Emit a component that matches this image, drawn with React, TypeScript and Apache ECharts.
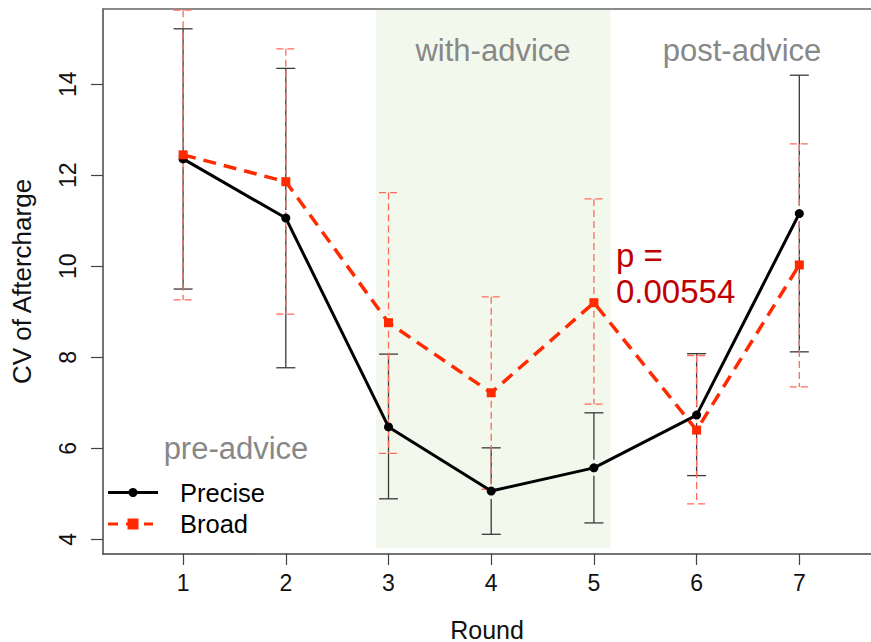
import React, { useEffect, useRef } from "react";
import * as echarts from "echarts";

const rounds = [1, 2, 3, 4, 5, 6, 7];
const preciseMean = [12.36, 11.06, 6.47, 5.06, 5.57, 6.73, 11.16];
const preciseLow = [9.5, 7.77, 4.89, 4.11, 4.36, 5.4, 8.12];
const preciseHigh = [15.22, 14.35, 8.07, 6.01, 6.78, 8.08, 14.2];
const broadMean = [12.45, 11.86, 8.76, 7.22, 9.2, 6.4, 10.03];
const broadLow = [9.26, 8.95, 5.89, 5.1, 6.97, 4.78, 7.35];
const broadHigh = [15.63, 14.78, 11.62, 9.33, 11.48, 8.04, 12.69];
const yTicks = [4, 6, 8, 10, 12, 14];
const xTicks = [1, 2, 3, 4, 5, 6, 7];
// shaded "with-advice" band: [xStart, yStart, xEnd, yEnd]
const adviceBand = [2.88, 3.81, 5.16, 15.65];

const FONT = "Liberation Sans, Arial, Helvetica, sans-serif";

function errRender(stroke: string, lineWidth: number, lineDash: number[] | null) {
  return (params: any, api: any) => {
    const x = api.value(0);
    const lo = api.value(1);
    const hi = api.value(2);
    const m = api.value(3);
    const pHi = api.coord([x, hi]);
    const pLo = api.coord([x, lo]);
    const pM = api.coord([x, m]);
    const gap = 8;
    const cap = 9.5;
    const style: any = { stroke, lineWidth, fill: null };
    if (lineDash) style.lineDash = lineDash;
    const children: any[] = [];
    if (pM[1] - gap > pHi[1]) {
      children.push({ type: "line", shape: { x1: pHi[0], y1: pHi[1], x2: pM[0], y2: pM[1] - gap }, style });
    }
    if (pM[1] + gap < pLo[1]) {
      children.push({ type: "line", shape: { x1: pM[0], y1: pM[1] + gap, x2: pLo[0], y2: pLo[1] }, style });
    }
    children.push({ type: "line", shape: { x1: pHi[0] - cap, y1: pHi[1], x2: pHi[0] + cap, y2: pHi[1] }, style });
    children.push({ type: "line", shape: { x1: pLo[0] - cap, y1: pLo[1], x2: pLo[0] + cap, y2: pLo[1] }, style });
    return { type: "group", children };
  };
}

export default function App() {
  const ref = useRef<HTMLDivElement>(null);
  useEffect(() => {
    if (!ref.current) return;
    const chart = echarts.init(ref.current, null, { renderer: "svg" });
    const axisColor = "#444";
    const txt = (text: string, x: number, y: number, size: number, fill: string, align: string) => ({
      type: "text",
      z: 100,
      x,
      y,
      style: { text, font: `${size}px ${FONT}`, fill, align, verticalAlign: "middle" },
    });
    const option: any = {
      animation: false,
      backgroundColor: "#ffffff",
      grid: { left: 103, right: 0, top: 9, bottom: 88, containLabel: false, outerBoundsMode: "none" },
      xAxis: [
        {
          type: "value",
          min: 0.22,
          max: 7.698,
          name: "Round",
          nameLocation: "middle",
          nameGap: 63,
          nameTextStyle: { fontFamily: FONT, fontSize: 25, color: "#111" },
          axisLine: { show: true, onZero: false, lineStyle: { color: axisColor, width: 1.5 } },
          axisTick: { show: true, length: 11, customValues: xTicks, lineStyle: { color: axisColor, width: 1.2 } },
          axisLabel: {
            show: true,
            customValues: xTicks,
            margin: 17,
            fontFamily: FONT,
            fontSize: 23,
            color: "#111",
          },
          splitLine: { show: false },
        },
        {
          type: "value",
          position: "top",
          min: 0.22,
          max: 7.698,
          axisLine: { show: true, onZero: false, lineStyle: { color: "#666", width: 1.5 } },
          axisTick: { show: false },
          axisLabel: { show: false },
          splitLine: { show: false },
        },
      ],
      yAxis: {
        type: "value",
        min: 3.677,
        max: 15.655,
        name: "CV of Aftercharge",
        nameLocation: "middle",
        nameGap: 68,
        nameRotate: 90,
        nameTextStyle: { fontFamily: FONT, fontSize: 26, color: "#111" },
        axisLine: { show: true, onZero: false, lineStyle: { color: axisColor, width: 1.5 } },
        axisTick: { show: true, length: 12, customValues: yTicks, lineStyle: { color: axisColor, width: 1.2 } },
        axisLabel: {
          show: true,
          customValues: yTicks,
          rotate: 90,
          margin: 24,
          fontFamily: FONT,
          fontSize: 23,
          color: "#111",
        },
        splitLine: { show: false },
      },
      series: [
        {
          type: "custom",
          name: "band",
          z: 0,
          silent: true,
          data: [adviceBand],
          renderItem: (params: any, api: any) => {
            const p1 = api.coord([api.value(0), api.value(3)]);
            const p2 = api.coord([api.value(2), api.value(1)]);
            return {
              type: "rect",
              shape: { x: p1[0], y: p1[1], width: p2[0] - p1[0], height: p2[1] - p1[1] },
              style: { fill: "#f3f8ec", stroke: null },
            };
          },
        },
        {
          type: "custom",
          name: "preciseErr",
          z: 1,
          silent: true,
          data: rounds.map((r, i) => [r, preciseLow[i], preciseHigh[i], preciseMean[i]]),
          renderItem: errRender("#3a3a3a", 1.3, null),
        },
        {
          type: "custom",
          name: "broadErr",
          z: 2,
          silent: true,
          data: rounds.map((r, i) => [r, broadLow[i], broadHigh[i], broadMean[i]]),
          renderItem: errRender("#ff6a5a", 1.3, [7, 4]),
        },
        {
          type: "line",
          name: "Precise",
          z: 3,
          data: rounds.map((r, i) => [r, preciseMean[i]]),
          symbol: "circle",
          symbolSize: 9,
          showAllSymbol: true,
          lineStyle: { color: "#000", width: 3 },
          itemStyle: { color: "#000" },
        },
        {
          type: "line",
          name: "Broad",
          z: 4,
          data: rounds.map((r, i) => [r, broadMean[i]]),
          symbol: "rect",
          symbolSize: 9,
          showAllSymbol: true,
          lineStyle: { color: "#ff2a00", width: 3.5, type: [13, 8] },
          itemStyle: { color: "#ff2a00" },
        },
      ],
      graphic: [
        txt("pre-advice", 236, 448, 31, "#888", "center"),
        txt("with-advice", 493, 50, 31, "#888", "center"),
        txt("post-advice", 742, 50, 31, "#888", "center"),
        txt("p =", 616, 255, 33, "#c00000", "left"),
        txt("0.00554", 616, 291, 33, "#c00000", "left"),
        { type: "line", z: 100, shape: { x1: 108, y1: 492.5, x2: 158, y2: 492.5 }, style: { stroke: "#000", lineWidth: 3 } },
        { type: "circle", z: 100, shape: { cx: 133, cy: 492.5, r: 4.5 }, style: { fill: "#000" } },
        txt("Precise", 180, 493, 25.5, "#000", "left"),
        { type: "line", z: 100, shape: { x1: 108, y1: 524, x2: 153, y2: 524 }, style: { stroke: "#ff2a00", lineWidth: 3, lineDash: [10, 8] } },
        { type: "rect", z: 100, shape: { x: 127.5, y: 518.5, width: 11, height: 11 }, style: { fill: "#ff2a00" } },
        txt("Broad", 180, 524, 25.5, "#000", "left"),
      ],
    };
    chart.setOption(option);
    return () => chart.dispose();
  }, []);
  return (
    <div
      ref={ref}
      style={{ position: "fixed", left: 0, top: 0, width: 871, height: 642, background: "#fff" }}
    />
  );
}
